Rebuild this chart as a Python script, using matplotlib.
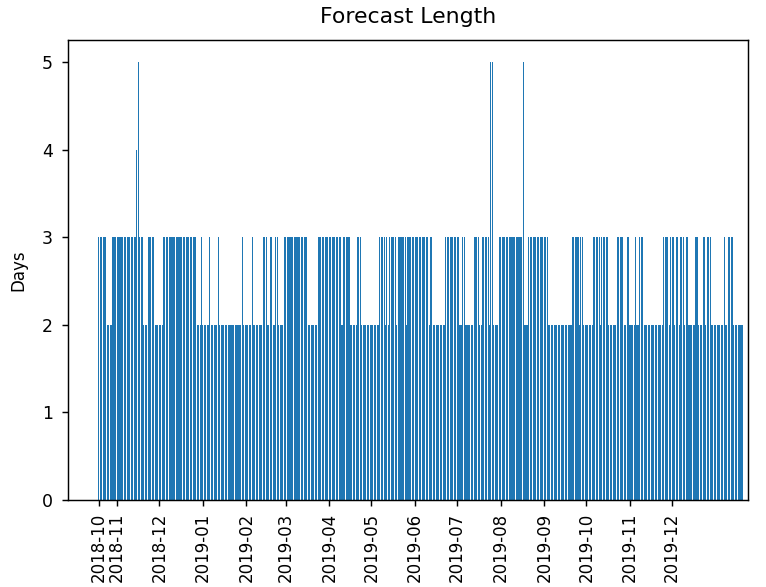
#! /usr/bin/env python
'''
bar chart of the forecast length (in days) issued for each date
'''

import datetime as dt
import numpy as np
import matplotlib
matplotlib.use('Agg')
import matplotlib.pyplot as plt

# ***************************** data *****************************
first_day = dt.date(2018, 10, 19)

# forecast length and how many consecutive days it held
level = [3, 2, 3, 4, 5, 3, 2, 3, 2, 3, 2, 3, 2, 3, 2, 3, 2, 3, 2, 3,
         2, 3, 2, 3, 2, 3, 2, 3, 2, 3, 2, 3, 2, 3, 2, 3, 2, 3, 2, 3,
         2, 3, 2, 3, 2, 3, 2, 3, 2, 3, 2, 3, 2, 3, 2, 5, 2, 3, 5, 2,
         3, 2, 3, 2, 3, 2, 3, 2, 3, 2, 3, 2, 3, 2, 3, 2, 3, 2, 3, 2,
         3, 2, 3, 2, 3, 2, 3, 2, 3, 2, 3, 2, 3, 2, 3, 2, 3, 2]
n_days = [6, 4, 17, 1, 1, 3, 3, 5, 6, 24, 3, 1, 5, 1, 5, 1, 16, 1, 6, 1,
          7, 3, 2, 2, 2, 2, 4, 17, 7, 17, 1, 5, 5, 3, 13, 4, 1, 1, 1, 5,
          1, 6, 1, 15, 1, 2, 9, 10, 2, 2, 6, 4, 2, 5, 1, 2, 4, 17, 1, 3,
          14, 17, 5, 1, 2, 7, 5, 1, 5, 6, 5, 2, 2, 4, 1, 2, 3, 14, 4, 1,
          3, 1, 2, 1, 3, 1, 2, 5, 2, 3, 2, 1, 3, 9, 1, 2, 4, 7]

tick_months = ['2018-11', '2018-12', '2019-01', '2019-02', '2019-03', '2019-04',
               '2019-05', '2019-06', '2019-07', '2019-08', '2019-09', '2019-10',
               '2019-11', '2019-12']

# ticks and lines a bit heavier than the matplotlib defaults
scale = 1.3


def main():
    days = np.repeat(level, n_days)
    dates = [first_day + dt.timedelta(days=i) for i in range(len(days))]

    fig = plt.figure(figsize=(7.66, 5.87), dpi=100)
    ax = fig.add_axes([0.0888, 0.1482, 0.8877, 0.7836])
    ax.bar(dates, days, width=0.75, color='#1f77b4')

    # first tick sits on the first forecast, the rest on the start of each month
    ticks = [first_day] + [dt.date(int(m[:4]), int(m[5:]), 1) for m in tick_months]
    labels = [first_day.strftime('%Y-%m')] + tick_months
    ax.set_xticks(ticks)
    ax.set_xticklabels(labels, rotation=90)
    ax.set_xlim(first_day - dt.timedelta(days=22.7), dates[-1] + dt.timedelta(days=4.5))

    ax.set_ylim(0, 5.25)
    ax.set_yticks(range(6))
    ax.tick_params(labelsize=12, length=3.5 * scale, width=0.8 * scale,
                   pad=3.5 * scale)
    ax.tick_params(axis='y', labelsize=12.5, pad=6.5)
    for spine in ax.spines.values():
        spine.set_linewidth(0.8 * scale)
    ax.set_ylabel('Days', fontsize=12, labelpad=10)
    ax.set_title('Forecast Length', fontsize=15.8, pad=12)

    fig.savefig('out.png', dpi=100)


if __name__ == '__main__':
    main()
